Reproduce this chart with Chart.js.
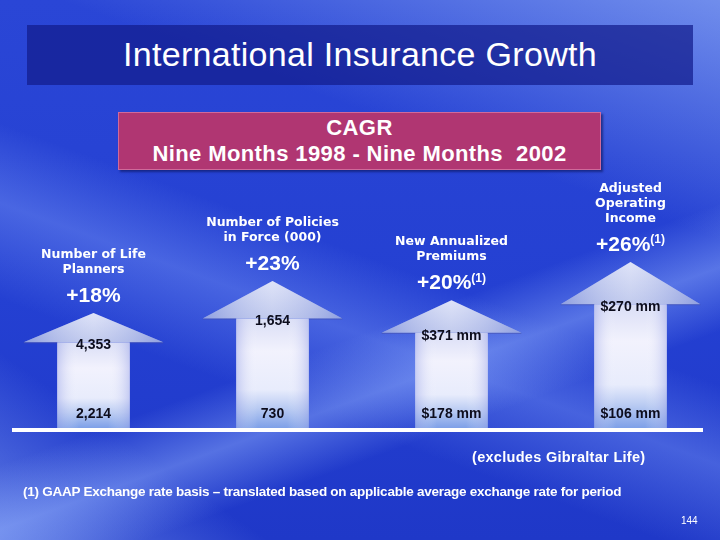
<!DOCTYPE html>
<html>
<head>
<meta charset="utf-8">
<script src="https://cdn.jsdelivr.net/npm/chart.js@4"></script>
<style>
  body { margin: 0; width: 720px; height: 540px; overflow: hidden; }
  #slide {
    position: relative; width: 720px; height: 540px; overflow: hidden;
    font-family: "Liberation Sans", Arial, sans-serif; color: #fff;
    background:
      linear-gradient(160deg, rgba(150,180,255,0) 0%, rgba(150,180,255,0) 58%, rgba(150,180,255,0.45) 66%, rgba(150,180,255,0) 74%),
      linear-gradient(20deg, rgba(140,170,255,0) 30%, rgba(140,170,255,0.35) 42%, rgba(140,170,255,0) 52%),
      linear-gradient(200deg, rgba(170,200,255,0.55) 0%, rgba(170,200,255,0) 30%),
      linear-gradient(35deg, rgba(160,190,255,0.5) 0%, rgba(160,190,255,0) 18%),
      linear-gradient(180deg, #2a46d6 0%, #2440d2 55%, #1f38c8 100%);
  }
  .title {
    position: absolute; left: 27px; top: 25px; width: 666px; height: 60px;
    background: rgba(18, 28, 140, 0.72);
    font-size: 34px; line-height: 58px; text-align: center; letter-spacing: 0.3px;
  }
  .cagr {
    position: absolute; left: 118px; top: 112px; width: 481px; height: 54px;
    background: #b03672; border: 1px solid #d06a9a;
    box-shadow: 2px 2px 2px rgba(10,20,90,0.6);
    font-weight: bold; font-size: 22px; line-height: 26px; text-align: center;
    letter-spacing: 0.4px; white-space: pre; padding-top: 2px;
  }
  canvas { position: absolute; left: 0; top: 0; }
  .excl { position: absolute; left: 472px; top: 449px; font-weight: bold; font-size: 14.5px; letter-spacing: 0.3px; }
  .foot { position: absolute; left: 23px; top: 484px; font-weight: bold; font-size: 13.5px; letter-spacing: -0.25px; }
  .page { position: absolute; left: 681px; top: 515px; font-size: 10px; }
</style>
</head>
<body>
<div id="slide">
  <div class="title">International Insurance Growth</div>
  <div class="cagr">CAGR
Nine Months 1998 - Nine Months  2002</div>
  <canvas id="chart" width="720" height="540"></canvas>
  <div class="excl">(excludes Gibraltar Life)</div>
  <div class="foot">(1) GAAP Exchange rate basis – translated based on applicable average exchange rate for period</div>
  <div class="page">144</div>
</div>
<script>
// chart data
const categories = [
  ["Number of Life", "Planners"],
  ["Number of Policies", "in Force (000)"],
  ["New Annualized", "Premiums"],
  ["Adjusted", "Operating", "Income"]
];
const cagr = [18, 23, 20, 26];
const cagrNote = ["", "", "(1)", "(1)"];
const startValues = ["2,214", "730", "$178 mm", "$106 mm"];
const endValues = ["4,353", "1,654", "$371 mm", "$270 mm"];

// draws each bar as an up arrow plus its labels
const arrowPlugin = {
  id: "arrows",
  afterDatasetsDraw(chart) {
    const ctx = chart.ctx;
    const area = chart.chartArea;
    const bars = chart.getDatasetMeta(0).data;

    ctx.save();
    bars.forEach((bar, i) => {
      const { x, y, base, width } = bar.getProps(["x", "y", "base", "width"], true);
      const h = base - y;
      const headH = h * 0.255;
      const shaftW = width * 0.52;
      const headY = y + headH;

      // shaft
      let g = ctx.createLinearGradient(0, headY, 0, base);
      g.addColorStop(0, "#dadef6");
      g.addColorStop(0.3, "#f2f2fd");
      g.addColorStop(0.65, "#e8ecfc");
      g.addColorStop(0.82, "#b8caf2");
      g.addColorStop(1, "#7ea0e8");
      ctx.fillStyle = g;
      ctx.fillRect(x - shaftW / 2, headY, shaftW, base - headY + 2);
      let sg = ctx.createLinearGradient(x - shaftW / 2, 0, x + shaftW / 2, 0);
      sg.addColorStop(0, "rgba(150,160,230,0.45)");
      sg.addColorStop(0.3, "rgba(255,255,255,0)");
      sg.addColorStop(0.7, "rgba(255,255,255,0)");
      sg.addColorStop(1, "rgba(150,160,230,0.45)");
      ctx.fillStyle = sg;
      ctx.fillRect(x - shaftW / 2, headY, shaftW, base - headY + 2);

      // head
      g = ctx.createLinearGradient(0, y, 0, headY);
      g.addColorStop(0, "#d4daf6");
      g.addColorStop(1, "#aebae8");
      ctx.fillStyle = g;
      ctx.beginPath();
      ctx.moveTo(x - width / 2, headY);
      ctx.lineTo(x, y);
      ctx.lineTo(x + width / 2, headY);
      ctx.closePath();
      ctx.fill();
      sg = ctx.createLinearGradient(x - width / 2, 0, x + width / 2, 0);
      sg.addColorStop(0, "rgba(110,130,215,0.5)");
      sg.addColorStop(0.5, "rgba(255,255,255,0.25)");
      sg.addColorStop(1, "rgba(110,130,215,0.5)");
      ctx.fillStyle = sg;
      ctx.fill();
      ctx.strokeStyle = "rgba(70,80,170,0.6)";
      ctx.lineWidth = 1;
      ctx.beginPath();
      ctx.moveTo(x - width / 2, headY + 0.5);
      ctx.lineTo(x - shaftW / 2, headY + 0.5);
      ctx.moveTo(x + shaftW / 2, headY + 0.5);
      ctx.lineTo(x + width / 2, headY + 0.5);
      ctx.stroke();

      // values inside the arrow
      ctx.fillStyle = "#0c0c1c";
      ctx.font = "bold 14px 'Liberation Sans', Arial, sans-serif";
      ctx.textAlign = "center";
      ctx.textBaseline = "middle";
      ctx.fillText(endValues[i], x, headY + 3);
      ctx.fillText(startValues[i], x, base - 14);

      // growth rate with optional note mark
      ctx.fillStyle = "#ffffff";
      const pct = "+" + cagr[i] + "%";
      ctx.font = "bold 21px 'Liberation Sans', Arial, sans-serif";
      const pw = ctx.measureText(pct).width;
      ctx.font = "bold 12px 'Liberation Sans', Arial, sans-serif";
      const nw = cagrNote[i] ? ctx.measureText(cagrNote[i]).width : 0;
      const left = x - (pw + nw) / 2;
      ctx.textAlign = "left";
      ctx.font = "bold 21px 'Liberation Sans', Arial, sans-serif";
      ctx.fillText(pct, left, y - 17);
      if (cagrNote[i]) {
        ctx.font = "bold 12px 'Liberation Sans', Arial, sans-serif";
        ctx.fillText(cagrNote[i], left + pw, y - 22);
      }

      // category label
      ctx.textAlign = "center";
      ctx.font = "bold 12.5px 'DejaVu Sans', Verdana, sans-serif";
      const lines = categories[i];
      lines.forEach((line, j) => {
        ctx.fillText(line, x, y - 43 - (lines.length - 1 - j) * 15);
      });
    });

    // baseline
    ctx.strokeStyle = "#ffffff";
    ctx.lineWidth = 4;
    ctx.beginPath();
    ctx.moveTo(12, area.bottom + 2);
    ctx.lineTo(703, area.bottom + 2);
    ctx.stroke();
    ctx.restore();
  }
};

new Chart(document.getElementById("chart"), {
  type: "bar",
  data: {
    labels: categories,
    datasets: [{
      data: cagr,
      backgroundColor: "rgba(0,0,0,0)",
      borderWidth: 0,
      barPercentage: 0.78,
      categoryPercentage: 1
    }]
  },
  options: {
    responsive: false,
    animation: false,
    layout: { padding: { top: 0, bottom: 112, left: 4, right: 0 } },
    plugins: { legend: { display: false }, tooltip: { enabled: false } },
    scales: {
      x: { display: false },
      y: { display: false, min: 0, max: 67 }
    }
  },
  plugins: [arrowPlugin]
});
</script>
</body>
</html>
